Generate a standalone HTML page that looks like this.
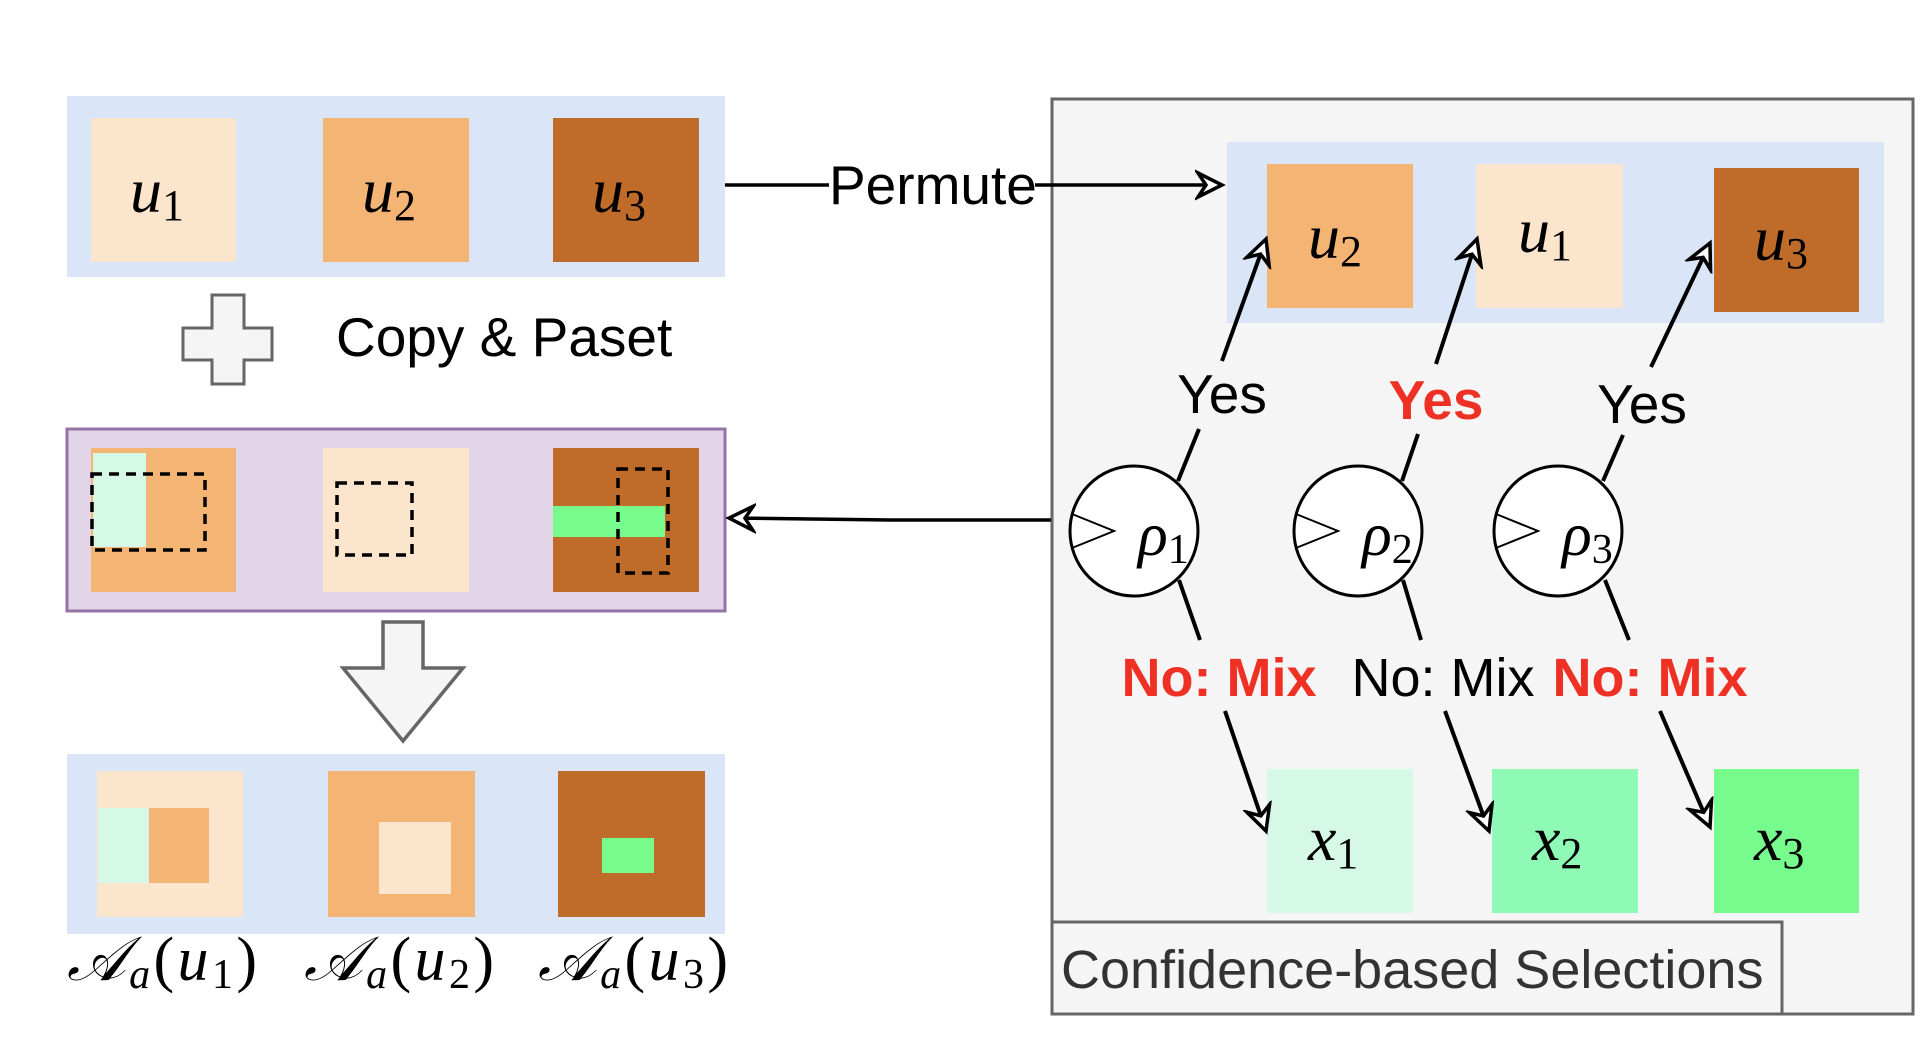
<!DOCTYPE html>
<html><head><meta charset="utf-8"><style>
html,body{margin:0;padding:0;background:#fff;}
svg text{font-family:"Liberation Sans",sans-serif;}
.m{font-family:"Liberation Serif",serif;font-style:italic;}
</style></head><body>
<svg width="1930" height="1052" viewBox="0 0 1930 1052" xmlns="http://www.w3.org/2000/svg">
<defs>
<marker id="a" markerWidth="32" markerHeight="32" refX="27" refY="16" orient="auto" markerUnits="userSpaceOnUse">
<path d="M3,4 L27,16 L3,28 L11,16 Z" fill="#fff" stroke="#000" stroke-width="3.5" stroke-linejoin="miter"/>
</marker>
</defs>
<!-- right box (drawn first) -->
<rect x="1052" y="99" width="861" height="915" fill="#f5f5f5" stroke="#666" stroke-width="3"/>
<!-- top band -->
<rect x="67" y="96" width="658" height="181" fill="#dae5f7"/>
<rect x="91" y="118" width="145" height="144" fill="#fbe5cd"/>
<rect x="323" y="118" width="146" height="144" fill="#f4b574"/>
<rect x="553" y="118" width="146" height="144" fill="#bf6b29"/>
<text class="m" x="130" y="212" font-size="64">u<tspan font-size="44" font-style="normal" dy="8">1</tspan></text>
<text class="m" x="362" y="212" font-size="64">u<tspan font-size="44" font-style="normal" dy="8">2</tspan></text>
<text class="m" x="592" y="212" font-size="64">u<tspan font-size="44" font-style="normal" dy="8">3</tspan></text>
<!-- permute -->
<line x1="725" y1="185" x2="829" y2="185" stroke="#000" stroke-width="3.5"/>
<text x="829" y="204" font-size="55">Permute</text>
<line x1="1035" y1="185" x2="1222" y2="185" stroke="#000" stroke-width="3.5" marker-end="url(#a)"/>
<!-- plus -->
<path d="M212,295 H244 V328 H272 V360 H244 V384 H212 V360 H183 V328 H212 Z" fill="#f5f5f5" stroke="#666" stroke-width="3"/>
<text x="336" y="356" font-size="55">Copy &amp; Paset</text>
<!-- purple box -->
<rect x="67" y="429" width="658" height="182" fill="#e1d5e7" stroke="#9673a6" stroke-width="3"/>
<rect x="91" y="448" width="145" height="144" fill="#f4b574"/>
<rect x="93" y="453" width="53" height="94" fill="#d5f9e6"/>
<rect x="92" y="474" width="113" height="76" fill="none" stroke="#000" stroke-width="3.5" stroke-dasharray="10,7"/>
<rect x="323" y="448" width="146" height="144" fill="#fbe5cd"/>
<rect x="337" y="483" width="75" height="72" fill="none" stroke="#000" stroke-width="3.5" stroke-dasharray="10,7"/>
<rect x="553" y="448" width="146" height="144" fill="#bf6b29"/>
<rect x="553" y="506" width="112" height="31" fill="#77fb8c"/>
<rect x="618" y="469" width="50" height="104" fill="none" stroke="#000" stroke-width="3.5" stroke-dasharray="10,7"/>
<!-- arrow from right box -->
<path d="M1051,520 L890,520 L729,518" fill="none" stroke="#000" stroke-width="3.5" marker-end="url(#a)"/>
<!-- down arrow -->
<path d="M383,622 H423 V668 H463 L403,741 L343,668 H383 Z" fill="#f5f5f5" stroke="#666" stroke-width="3.5"/>
<!-- bottom band -->
<rect x="67" y="754" width="658" height="180" fill="#dae5f7"/>
<rect x="97" y="771" width="146" height="146" fill="#fbe5cd"/>
<rect x="98" y="808" width="51" height="75" fill="#d5f9e6"/>
<rect x="149" y="808" width="60" height="75" fill="#f4b574"/>
<rect x="328" y="771" width="147" height="146" fill="#f4b574"/>
<rect x="379" y="822" width="72" height="72" fill="#fbe5cd"/>
<rect x="558" y="771" width="147" height="146" fill="#bf6b29"/>
<rect x="602" y="838" width="52" height="35" fill="#77fb8c"/>
<text class="m" x="67" y="980" font-size="62" textLength="190" lengthAdjust="spacing">𝒜<tspan font-size="42" dy="8">a</tspan><tspan dy="-8" font-style="normal">(</tspan>u<tspan font-size="42" dy="8" font-style="normal">1</tspan><tspan dy="-8" font-style="normal">)</tspan></text>
<text class="m" x="304" y="980" font-size="62" textLength="190" lengthAdjust="spacing">𝒜<tspan font-size="42" dy="8">a</tspan><tspan dy="-8" font-style="normal">(</tspan>u<tspan font-size="42" dy="8" font-style="normal">2</tspan><tspan dy="-8" font-style="normal">)</tspan></text>
<text class="m" x="538" y="980" font-size="62" textLength="190" lengthAdjust="spacing">𝒜<tspan font-size="42" dy="8">a</tspan><tspan dy="-8" font-style="normal">(</tspan>u<tspan font-size="42" dy="8" font-style="normal">3</tspan><tspan dy="-8" font-style="normal">)</tspan></text>
<!-- right inner -->
<rect x="1227" y="142" width="657" height="181" fill="#dae5f7"/>
<rect x="1267" y="164" width="146" height="144" fill="#f4b574"/>
<rect x="1476" y="164" width="147" height="144" fill="#fbe5cd"/>
<rect x="1714" y="168" width="145" height="144" fill="#bf6b29"/>
<text class="m" x="1308" y="258" font-size="64">u<tspan font-size="44" font-style="normal" dy="8">2</tspan></text>
<text class="m" x="1518" y="252" font-size="64">u<tspan font-size="44" font-style="normal" dy="8">1</tspan></text>
<text class="m" x="1754" y="260" font-size="64">u<tspan font-size="44" font-style="normal" dy="8">3</tspan></text>
<!-- x squares -->
<rect x="1267" y="769" width="146" height="144" fill="#d5f9e6"/>
<rect x="1492" y="769" width="146" height="144" fill="#8ffab6"/>
<rect x="1714" y="769" width="145" height="144" fill="#77fb8c"/>
<text class="m" x="1308" y="860" font-size="64">x<tspan font-size="44" font-style="normal" dy="8">1</tspan></text>
<text class="m" x="1532" y="860" font-size="64">x<tspan font-size="44" font-style="normal" dy="8">2</tspan></text>
<text class="m" x="1754" y="860" font-size="64">x<tspan font-size="44" font-style="normal" dy="8">3</tspan></text>
<!-- connectors -->
<g stroke="#000" stroke-width="4" fill="none">
<line x1="1178" y1="481" x2="1199" y2="429"/><line x1="1222" y1="361" x2="1266" y2="239" marker-end="url(#a)"/>
<line x1="1402" y1="481" x2="1418" y2="434"/><line x1="1436" y1="364" x2="1477" y2="239" marker-end="url(#a)"/>
<line x1="1603" y1="481" x2="1623" y2="435"/><line x1="1651" y1="367" x2="1710" y2="243" marker-end="url(#a)"/>
<line x1="1179" y1="580" x2="1200" y2="640"/><line x1="1225" y1="711" x2="1266" y2="831" marker-end="url(#a)"/>
<line x1="1403" y1="580" x2="1421" y2="640"/><line x1="1445" y1="711" x2="1489" y2="831" marker-end="url(#a)"/>
<line x1="1605" y1="580" x2="1629" y2="640"/><line x1="1660" y1="711" x2="1710" y2="827" marker-end="url(#a)"/>
</g>
<text x="1222" y="413" font-size="55" text-anchor="middle">Yes</text>
<text x="1436" y="419" font-size="55" font-weight="bold" fill="#ee3124" text-anchor="middle">Yes</text>
<text x="1642" y="423" font-size="55" text-anchor="middle">Yes</text>
<text x="1219" y="696" font-size="54" font-weight="bold" fill="#ee3124" text-anchor="middle">No: Mix</text>
<text x="1443" y="696" font-size="54" text-anchor="middle">No: Mix</text>
<text x="1650" y="696" font-size="54" font-weight="bold" fill="#ee3124" text-anchor="middle">No: Mix</text>
<!-- ellipses -->
<g fill="#fff" stroke="#000" stroke-width="3">
<ellipse cx="1134" cy="531" rx="64" ry="65"/>
<ellipse cx="1358" cy="531" rx="64" ry="65"/>
<ellipse cx="1558" cy="531" rx="64" ry="65"/>
</g>
<g fill="none" stroke="#000" stroke-width="2">
<path d="M1072,514 L1114,531 L1072,548"/>
<path d="M1296,514 L1338,531 L1296,548"/>
<path d="M1496,514 L1538,531 L1496,548"/>
</g>
<text class="m" x="1138" y="555" font-size="62">ρ<tspan font-size="42" font-style="normal" dy="8">1</tspan></text>
<text class="m" x="1362" y="555" font-size="62">ρ<tspan font-size="42" font-style="normal" dy="8">2</tspan></text>
<text class="m" x="1562" y="555" font-size="62">ρ<tspan font-size="42" font-style="normal" dy="8">3</tspan></text>
<!-- caption -->
<rect x="1052" y="922" width="730" height="92" fill="#f5f5f5" stroke="#666" stroke-width="3"/>
<text x="1061" y="988" font-size="54" fill="#333">Confidence-based Selections</text>
</svg>
</body></html>
